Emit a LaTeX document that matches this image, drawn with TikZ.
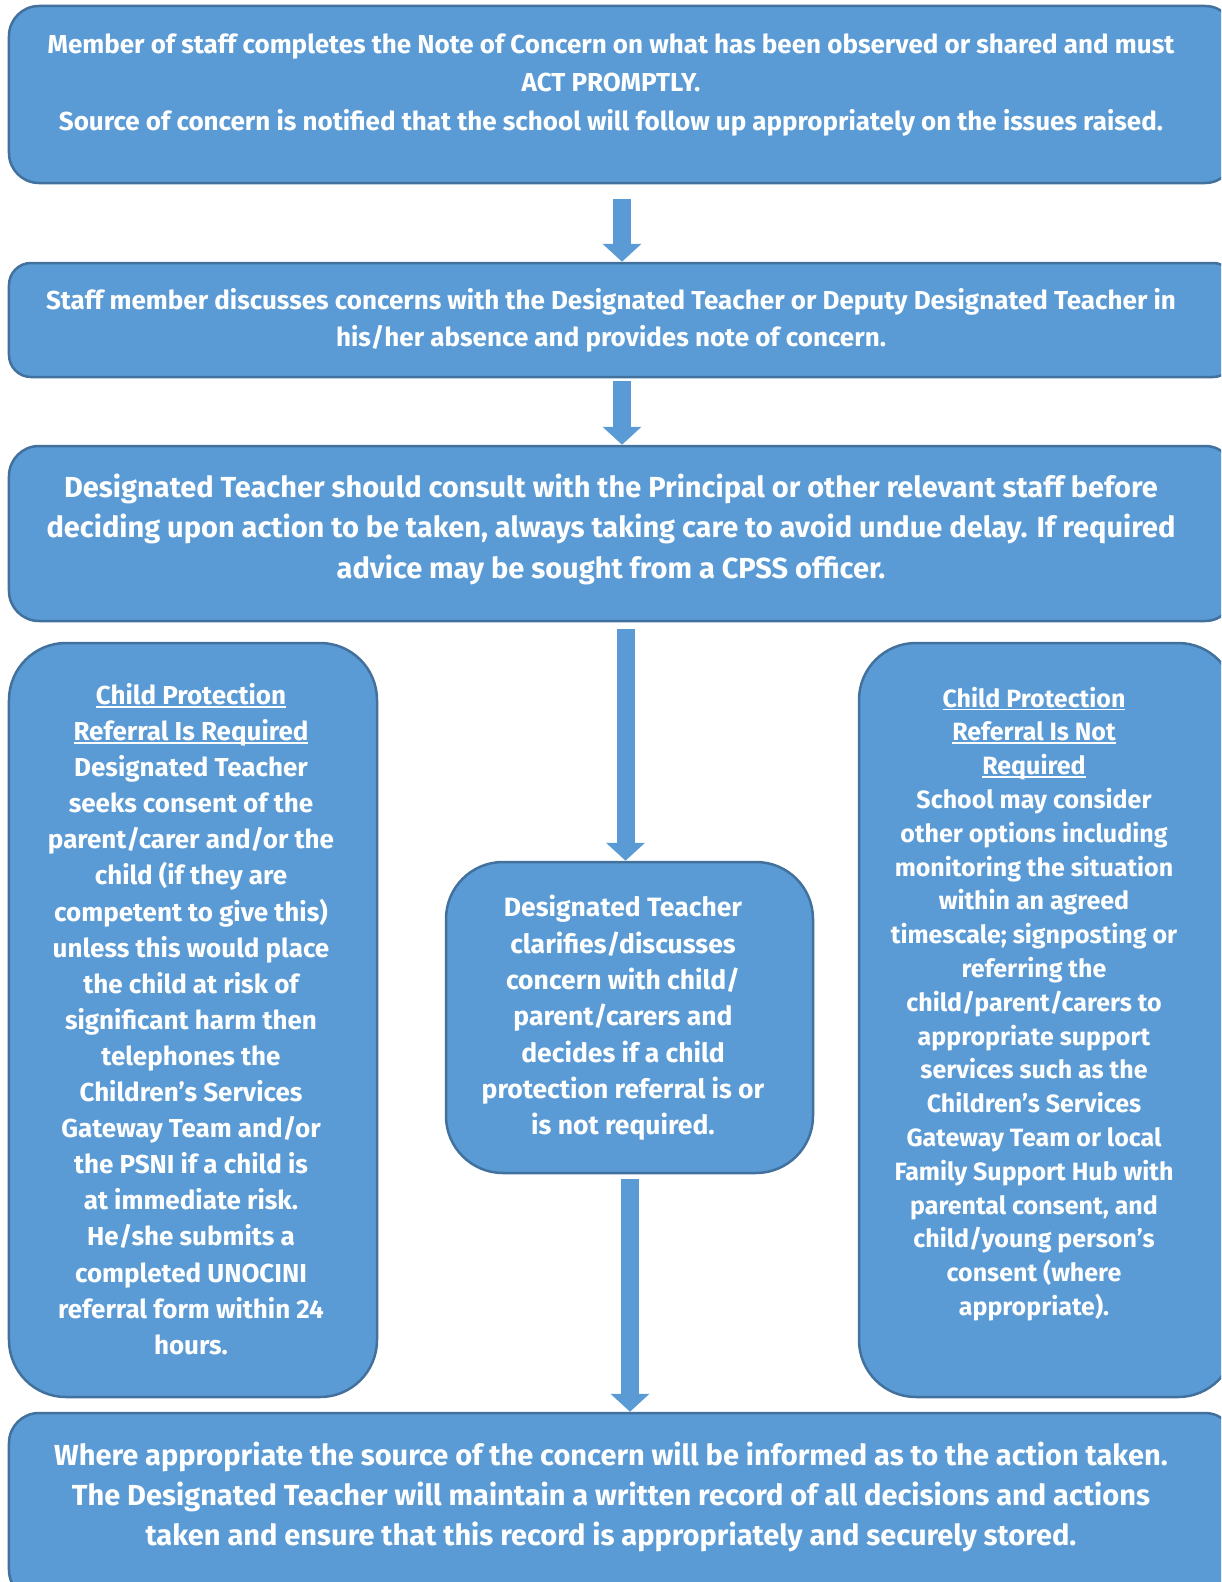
\documentclass[tikz,border=0pt]{standalone}
\usepackage{fontspec}
\setmainfont{Fira Sans}
\usetikzlibrary{arrows.meta}
\definecolor{boxfill}{HTML}{5B9BD5}
\definecolor{boxline}{HTML}{41719C}
\newsavebox{\ulbox}
\newcommand{\ulx}[1]{\sbox{\ulbox}{#1}\rlap{\rule[-0.13em]{\wd\ulbox}{0.07em}}\usebox{\ulbox}}
\tikzset{
  box/.style={draw=boxline, line width=2.5bp, fill=boxfill, rectangle, inner sep=0pt},
  txt/.style={text=white, align=center, inner sep=0pt},
  barrow/.style={draw=boxfill, line width=18bp, -{Triangle[width=38bp,length=18bp]}}
}
\begin{document}
\begin{tikzpicture}[x=1bp,y=-1bp]
\useasboundingbox (0,0) rectangle (1221,1582);
\clip (0,0) rectangle (1221,1582);
\fill[white] (0,0) rectangle (1221,1582);
% boxes
\node[box, rounded corners=30bp, minimum width=1226bp, minimum height=177bp] (b1) at (622,94.5) {};
\node[box, rounded corners=22bp, minimum width=1226bp, minimum height=114bp] (b2) at (622,320) {};
\node[box, rounded corners=30bp, minimum width=1226bp, minimum height=175bp] (b3) at (622,533.5) {};
\node[box, rounded corners=57bp, minimum width=368bp, minimum height=754bp] (bl) at (193,1020) {};
\node[box, rounded corners=57bp, minimum width=367bp, minimum height=311bp] (bm) at (629.5,1017.5) {};
\node[box, rounded corners=57bp, minimum width=376bp, minimum height=754bp] (br) at (1047,1020) {};
\node[box, rounded corners=30bp, minimum width=1226bp, minimum height=187bp] (b4) at (622,1506.5) {};
% texts
\node[txt, font=\fontsize{26bp}{38.5bp}\selectfont\bfseries] (t1) at (611,85) {Member of staff completes the Note of Concern on what has been observed or shared and must\\ACT PROMPTLY.\\Source of concern is notified that the school will follow up appropriately on the issues raised.};
\node[txt, font=\fontsize{26bp}{37bp}\selectfont\bfseries] (t2) at (611,320) {Staff member discusses concerns with the Designated Teacher or Deputy Designated Teacher in\\his/her absence and provides note of concern.};
\node[txt, font=\fontsize{29bp}{40.5bp}\selectfont\bfseries] (t3) at (611,529) {Designated Teacher should consult with the Principal or other relevant staff before\\deciding upon action to be taken, always taking care to avoid undue delay. If required\\advice may be sought from a CPSS officer.};
\node[txt, font=\fontsize{26bp}{36.1bp}\selectfont\bfseries] (tl) at (191,1019) {\ulx{Child Protection}\\\ulx{Referral Is Required}\\Designated Teacher\\seeks consent of the\\parent/carer and/or the\\child (if they are\\competent to give this)\\unless this would place\\the child at risk of\\significant harm then\\telephones the\\Children’s Services\\Gateway Team and/or\\the PSNI if a child is\\at immediate risk.\\He/she submits a\\completed UNOCINI\\referral form within 24\\hours.};
\node[txt, font=\fontsize{26.5bp}{36.3bp}\selectfont\bfseries] (tm) at (623,1018) {Designated Teacher\\clarifies/discusses\\concern with child/\\parent/carers and\\decides if a child\\protection referral is or\\is not required.};
\node[txt, font=\fontsize{25bp}{33.8bp}\selectfont\bfseries] (tr) at (1034,1004) {\ulx{Child Protection}\\\ulx{Referral Is Not}\\\ulx{Required}\\School may consider\\other options including\\monitoring the situation\\within an agreed\\timescale; signposting or\\referring the\\child/parent/carers to\\appropriate support\\services such as the\\Children’s Services\\Gateway Team or local\\Family Support Hub with\\parental consent, and\\child/young person’s\\consent (where\\appropriate).};
\node[txt, font=\fontsize{29bp}{40bp}\selectfont\bfseries] (t4) at (611,1497) {Where appropriate the source of the concern will be informed as to the action taken.\\The Designated Teacher will maintain a written record of all decisions and actions\\taken and ensure that this record is appropriately and securely stored.};
% arrows
\coordinate (ax1) at (622,0);
\coordinate (ax3) at (625.5,0);
\coordinate (ax4) at (630,0);
\draw[barrow] ([yshift=-15bp]b1.south -| ax1) -- (b2.north -| ax1);
\draw[barrow] ([yshift=-3bp]b2.south -| ax1) -- (b3.north -| ax1);
\draw[barrow] ([yshift=-7bp]b3.south -| ax3) -- (bm.north -| ax3);
\draw[barrow] ([yshift=-5bp]bm.south -| ax4) -- (b4.north -| ax4);
\end{tikzpicture}
\end{document}
